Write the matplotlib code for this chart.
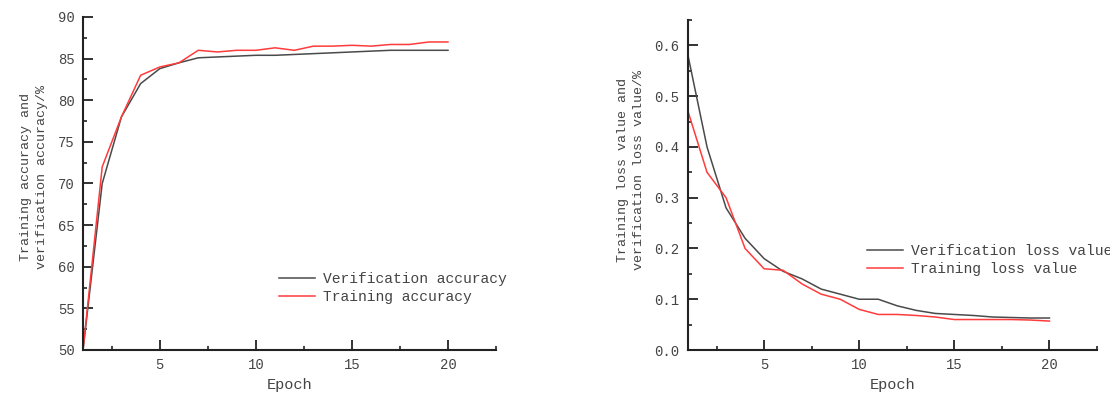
import matplotlib
matplotlib.use("Agg")
import matplotlib.pyplot as plt
from matplotlib.ticker import MultipleLocator

epochs = list(range(1, 21))
val_acc = [50, 70, 78, 82, 83.8, 84.5, 85.1, 85.2, 85.3, 85.4,
           85.4, 85.5, 85.6, 85.7, 85.8, 85.9, 86.0, 86.0, 86.0, 86.0]
train_acc = [50, 72, 78, 83, 84, 84.5, 86, 85.8, 86, 86,
             86.3, 86, 86.5, 86.5, 86.6, 86.5, 86.7, 86.7, 87, 87]
val_loss = [0.58, 0.40, 0.28, 0.22, 0.18, 0.155, 0.14, 0.12, 0.11, 0.10,
            0.10, 0.087, 0.078, 0.072, 0.070, 0.068, 0.065, 0.064, 0.063, 0.063]
train_loss = [0.47, 0.35, 0.30, 0.20, 0.16, 0.157, 0.13, 0.11, 0.10, 0.08,
              0.07, 0.07, 0.068, 0.065, 0.060, 0.060, 0.060, 0.060, 0.059, 0.057]

FONT = "Liberation Mono"
GRAY = "#4a4a4a"
RED = "#ff3b3b"

fig = plt.figure(figsize=(11.1, 3.96), dpi=100)
ax1 = fig.add_axes([83/1110, 1-350/396, 413/1110, 333/396])
ax2 = fig.add_axes([688/1110, 1-350/396, 409/1110, 330/396])

def style(ax):
    for s in ("top", "right"):
        ax.spines[s].set_visible(False)
    for s in ("left", "bottom"):
        ax.spines[s].set_linewidth(1.5)
        ax.spines[s].set_color("#222222")
    ax.tick_params(which="major", direction="in", length=7, width=1.3, colors="#222222",
                   labelcolor="#444444", pad=6)
    ax.tick_params(which="minor", direction="in", length=3, width=1.2, colors="#222222")
    ax.xaxis.set_major_locator(MultipleLocator(5))
    ax.xaxis.set_minor_locator(MultipleLocator(2.5))
    ax.set_xlim(1, 22.5)
    for lab in ax.get_xticklabels() + ax.get_yticklabels():
        lab.set_fontfamily(FONT)
        lab.set_fontsize(10)

# Left
ax1.plot(epochs, val_acc, color=GRAY, lw=1.1, label="Verification accuracy")
ax1.plot(epochs, train_acc, color=RED, lw=1.1, label="Training accuracy")
ax1.set_ylim(50, 90)
ax1.yaxis.set_major_locator(MultipleLocator(5))
ax1.yaxis.set_minor_locator(MultipleLocator(2.5))
style(ax1)
ax1.set_xlabel("Epoch", fontfamily=FONT, fontsize=11, color="#444444")
ax1.xaxis.set_label_coords(0.5, -0.085)
ax1.set_ylabel("Training accuracy and\nverification accuracy/%", fontfamily=FONT,
               fontsize=9.6, color="#444444", linespacing=1.45)
ax1.yaxis.set_label_coords(-0.085, 0.52)
ax1.legend(loc="center left", bbox_to_anchor=(0.475, 0.186), frameon=False,
           borderaxespad=0, borderpad=0, handlelength=2.45, handletextpad=0.55,
           labelspacing=0.25, prop={"family": FONT, "size": 10.5}, labelcolor="#444444")

# Right
ax2.plot(epochs, val_loss, color=GRAY, lw=1.1, label="Verification loss value")
ax2.plot(epochs, train_loss, color=RED, lw=1.1, label="Training loss value")
ax2.set_ylim(0, 0.65)
ax2.yaxis.set_major_locator(MultipleLocator(0.1))
ax2.yaxis.set_minor_locator(MultipleLocator(0.05))
style(ax2)
ax2.set_yticks([0, 0.1, 0.2, 0.3, 0.4, 0.5, 0.6])
ax2.set_yticklabels(["0.0", "0.1", "0.2", "0.3", "0.4", "0.5", "0.6"], fontfamily=FONT, fontsize=10)
ax2.set_xlabel("Epoch", fontfamily=FONT, fontsize=11, color="#444444")
ax2.xaxis.set_label_coords(0.5, -0.085)
ax2.set_ylabel("Training loss value and\nverification loss value/%", fontfamily=FONT,
               fontsize=9.6, color="#444444", linespacing=1.45)
ax2.yaxis.set_label_coords(-0.105, 0.545)
ax2.legend(loc="center left", bbox_to_anchor=(0.438, 0.273), frameon=False,
           borderaxespad=0, borderpad=0, handlelength=2.45, handletextpad=0.55,
           labelspacing=0.25, prop={"family": FONT, "size": 10.5}, labelcolor="#444444")

fig.savefig("out.png", dpi=100)
